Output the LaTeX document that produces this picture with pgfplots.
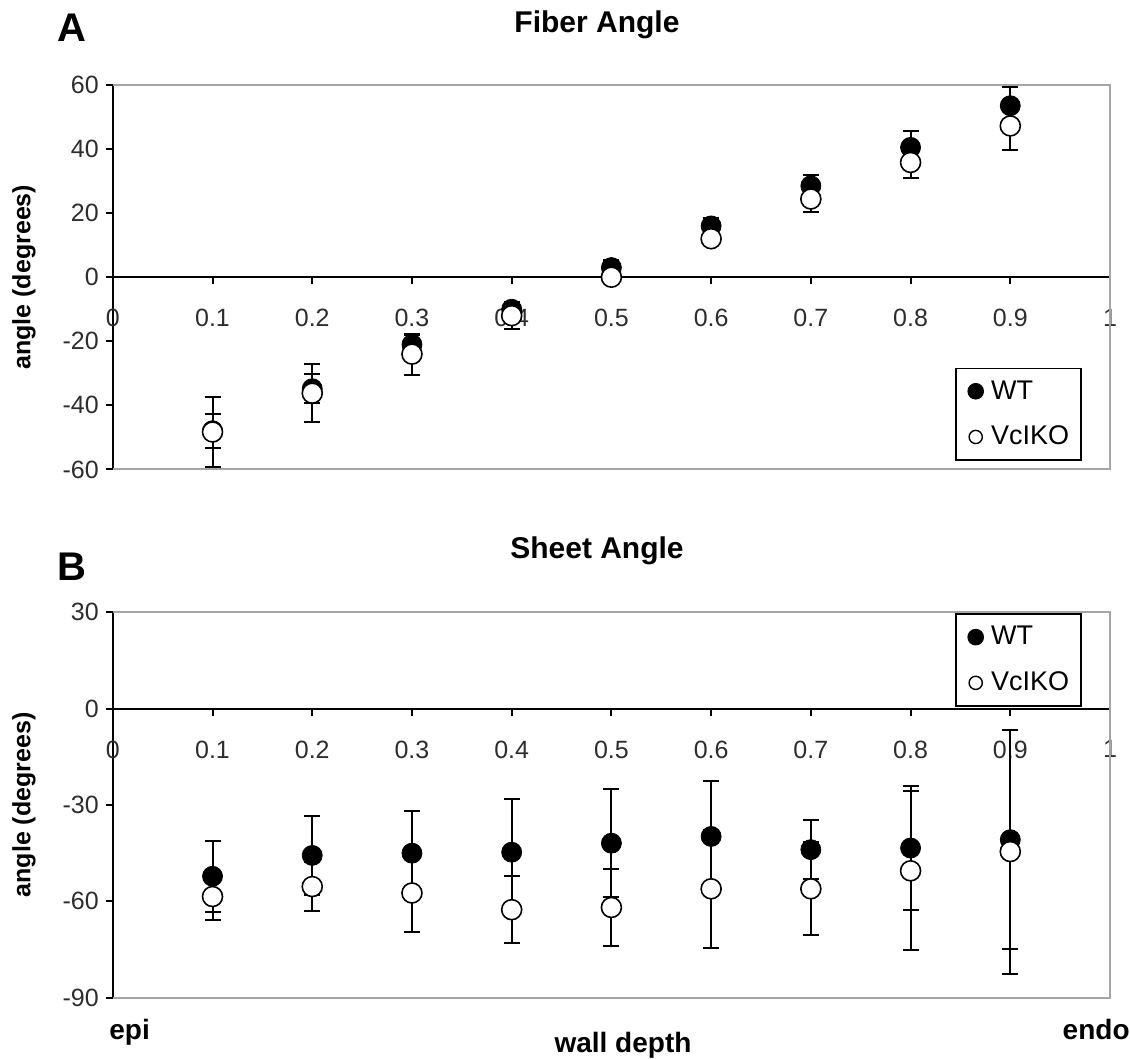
\documentclass[border=0pt]{standalone}
\usepackage{fontspec}
\setmainfont{Liberation Sans}
\usepackage{pgfplots}
\usepackage{pgfplotstable}
\pgfplotsset{compat=1.18}

\definecolor{frameGray}{RGB}{165,165,165}
\definecolor{tickText}{RGB}{45,45,45}

% fiber angle, x  mean  sd
\pgfplotstableread{
x    y      e
0.1  -47.9  5.3
0.2  -34.8  4.6
0.3  -21.0  3.0
0.4  -10.0  2.2
0.5    3.0  2.4
0.6   16.0  2.4
0.7   28.5  3.4
0.8   40.5  5.2
0.9   53.5  5.7
}\fiberWT
\pgfplotstableread{
x    y      e
0.1  -48.3  10.9
0.2  -36.2  9.0
0.3  -24.0  6.4
0.4  -12.0  4.3
0.5    0.0  1.5
0.6   12.0  2.0
0.7   24.4  4.0
0.8   35.8  5.0
0.9   47.2  7.5
}\fiberKO
% sheet angle
\pgfplotstableread{
x    y      e
0.1  -52.2  11.0
0.2  -45.7  12.2
0.3  -45.0  13.2
0.4  -44.7  16.7
0.5  -41.9  16.9
0.6  -39.8  17.2
0.7  -43.9  9.1
0.8  -43.4  19.2
0.9  -40.8  34.0
}\sheetWT
\pgfplotstableread{
x    y      e
0.1  -58.5  7.2
0.2  -55.4  7.7
0.3  -57.4  12.0
0.4  -62.6  10.4
0.5  -61.9  12.0
0.6  -56.1  18.3
0.7  -56.1  14.5
0.8  -50.5  24.8
0.9  -44.5  38.0
}\sheetKO

\newcommand\tickfont{\fontsize{12.5}{14}\selectfont}

\pgfplotsset{
  panel/.style={
    scale only axis, width=498.6pt,
    xmin=0, xmax=1,
    axis x line=middle, axis y line=left,
    axis line style={-, black, line width=1pt},
    enlargelimits=false,
    xtick={0,0.1,0.2,0.3,0.4,0.5,0.6,0.7,0.8,0.9,1},
    xticklabels={0,0.1,0.2,0.3,0.4,0.5,0.6,0.7,0.8,0.9,1},
    tick align=outside,
    major tick length=3.5pt,
    tick style={black, line width=1pt},
    ticklabel style={font=\tickfont, text=tickText},
    xticklabel style={anchor=north, yshift=-9pt},
    /pgf/number format/assume math mode=true,
    clip=false,
    legend style={draw=black, line width=0.9pt, font=\fontsize{13.5}{15}\selectfont,
      anchor=north west, inner xsep=4pt, inner ysep=4pt, row sep=8pt},
    legend cell align=left,
  },
  errs/.style={error bars/.cd, y dir=both, y explicit,
    error bar style={line width=1pt, black},
    error mark options={rotate=90, mark size=4pt, line width=1pt, black}},
  wt/.style={only marks, mark=*, mark size=5pt, black, mark options={fill=black, draw=black}, forget plot, errs},
  ko/.style={only marks, mark=*, mark size=5pt, black, mark options={fill=white, draw=black, line width=0.8pt}, forget plot, errs},
  wtkey/.style={legend image code/.code={\path[draw=none] (0,0) -- (0.4cm,0);
      \fill[black] (0.2cm,0) circle (3.7pt);}},
  kokey/.style={legend image code/.code={\path[draw=none] (0,0) -- (0.4cm,0);
      \draw[black, fill=white, line width=0.7pt] (0.2cm,0) circle (3.3pt);}},
}

\begin{document}
\begin{tikzpicture}
\path[use as bounding box] (0,0) rectangle (565pt,529.5pt);

% A: fiber angle
\begin{axis}[panel, at={(56.4pt,294.75pt)}, anchor=south west, height=192.3pt,
    ymin=-60, ymax=60, ytick={-60,-40,-20,0,20,40,60},
    legend style={at={(rel axis cs:0.845,0.265)}}]
  \draw[frameGray, line width=1pt] (rel axis cs:0,1) -- (rel axis cs:1,1) -- (rel axis cs:1,0) -- (rel axis cs:0,0);
  \addplot[wt] table[x=x, y=y, y error=e] {\fiberWT};
  \addplot[ko] table[x=x, y=y, y error=e] {\fiberKO};
  \addlegendimage{wtkey}
  \addlegendentry{WT}
  \addlegendimage{kokey}
  \addlegendentry{VcIKO}
  \node[font=\tickfont, text=tickText, anchor=north, yshift=-12.5pt] at (axis cs:0,0) {0};
\end{axis}

% B: sheet angle
\begin{axis}[panel, at={(56.4pt,30.65pt)}, anchor=south west, height=192.7pt,
    ymin=-90, ymax=30, ytick={-90,-60,-30,0,30},
    legend style={at={(rel axis cs:0.845,0.997)}}]
  \draw[frameGray, line width=1pt] (rel axis cs:0,1) -- (rel axis cs:1,1) -- (rel axis cs:1,0) -- (rel axis cs:0,0);
  \addplot[wt] table[x=x, y=y, y error=e] {\sheetWT};
  \addplot[ko] table[x=x, y=y, y error=e] {\sheetKO};
  \addlegendimage{wtkey}
  \addlegendentry{WT}
  \addlegendimage{kokey}
  \addlegendentry{VcIKO}
  \node[font=\tickfont, text=tickText, anchor=north, yshift=-12.5pt] at (axis cs:0,0) {0};
\end{axis}

% titles, panel letters and labels
\node[font=\bfseries\fontsize{20}{22}\selectfont] at (36pt,515.5pt) {A};
\node[font=\bfseries\fontsize{15}{17}\selectfont] at (298.5pt,517pt) {Fiber Angle};
\node[font=\bfseries\fontsize{20}{22}\selectfont] at (36pt,246pt) {B};
\node[font=\bfseries\fontsize{15}{17}\selectfont] at (298.5pt,254pt) {Sheet Angle};
\node[font=\bfseries\fontsize{12.5}{14}\selectfont, rotate=90] at (12pt,390.9pt) {angle (degrees)};
\node[font=\bfseries\fontsize{12.5}{14}\selectfont, rotate=90] at (12pt,127pt) {angle (degrees)};
\node[font=\bfseries\fontsize{14}{16}\selectfont, anchor=base west, inner sep=0pt] at (54.5pt,9.5pt) {epi};
\node[font=\bfseries\fontsize{14}{16}\selectfont, anchor=base east, inner sep=0pt] at (565pt,9.5pt) {endo};
\node[font=\bfseries\fontsize{14}{16}\selectfont, anchor=base, inner sep=0pt] at (311.5pt,3pt) {wall depth};
\end{tikzpicture}
\end{document}
